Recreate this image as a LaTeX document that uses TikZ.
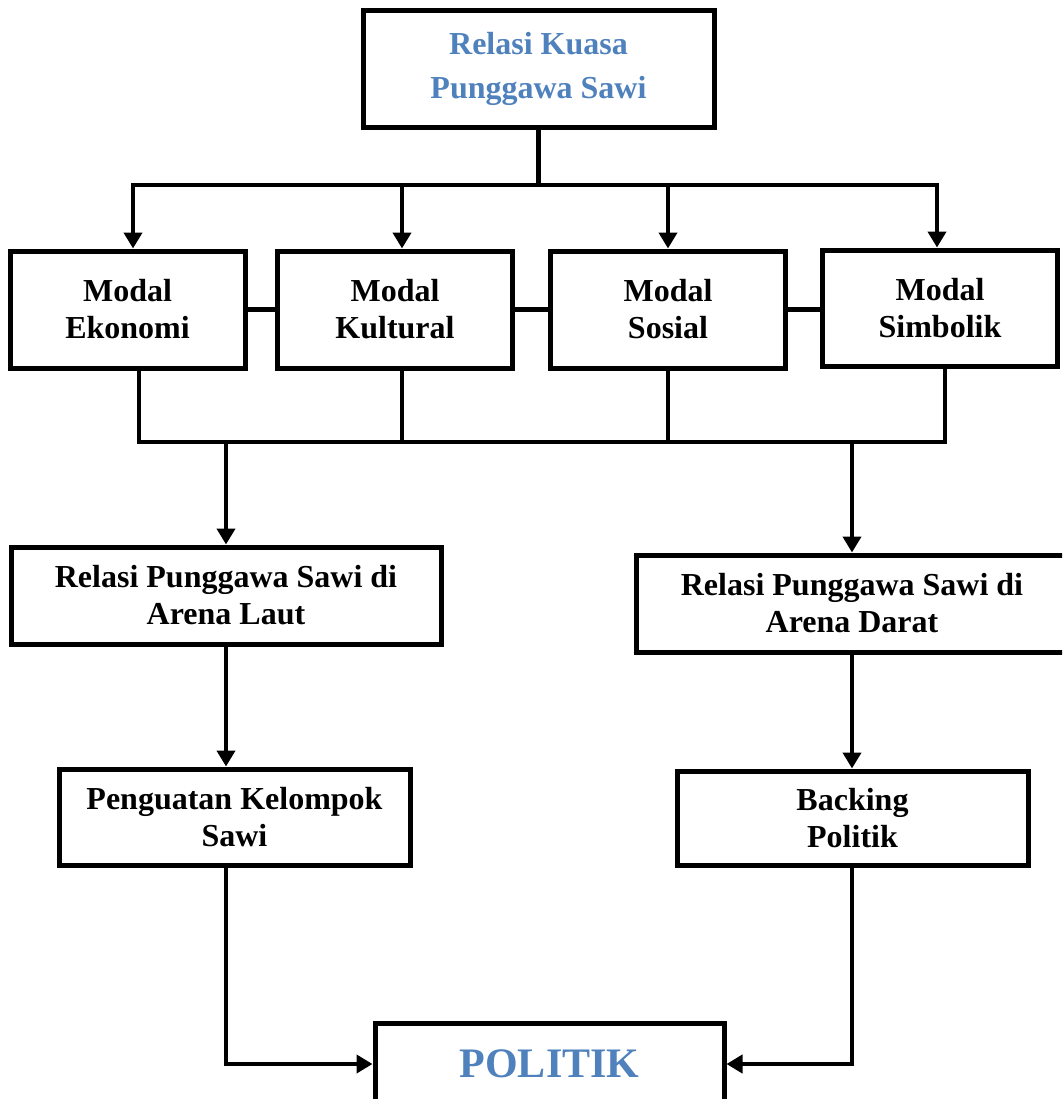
\documentclass[tikz,border=0pt]{standalone}
\usepackage{fontspec}
\setmainfont{Liberation Serif}
\usetikzlibrary{arrows.meta, positioning}
\definecolor{titleblue}{RGB}{79,129,189}

\begin{document}
\begin{tikzpicture}[x=0.5pt, y=-0.5pt,
        box/.style={draw=black, line width=2.5pt, fill=white, align=center, inner sep=0pt,
            font=\bfseries\fontsize{16}{18.5}\selectfont},
        modal/.style={box, minimum width=117.5pt, minimum height=58.5pt},
        link/.style={line width=2.3pt, line cap=rect},
        arr/.style={line width=2.3pt, -{Triangle[width=9pt, length=8pt]}}]
        \useasboundingbox (0,0) rectangle (1062,1099);
        \clip (0,0) rectangle (1062,1099);

        % Title
        \node[box, minimum width=175.5pt, minimum height=58.5pt, text=titleblue,
            font=\bfseries\fontsize{16}{22}\selectfont] (title) at (538.5, 68.5) {Relasi Kuasa\\Punggawa Sawi};

        % Capital boxes
        \node[modal] (ekonomi) at (127.5, 309.5) {Modal\\Ekonomi};
        \node[modal] (kultural) at (395, 309.5) {Modal\\Kultural};
        \node[modal] (sosial) at (668, 309.5) {Modal\\Sosial};
        \node[modal, minimum height=58pt] (simbolik) at (940, 308) {Modal\\Simbolik};

        % Arenas
        \node[box, minimum width=215pt, minimum height=48.5pt] (laut) at (226, 595.5) {Relasi Punggawa Sawi di\\Arena Laut};
        \node[box, minimum width=215.5pt, minimum height=48.5pt] (darat) at (852, 603.5) {Relasi Punggawa Sawi di\\Arena Darat};
        \node[box, minimum width=175.5pt, minimum height=48pt] (penguatan) at (234.5, 817) {Penguatan Kelompok\\Sawi};
        \node[box, minimum width=175.5pt, minimum height=47pt] (backing) at (852.5, 818) {Backing\\Politik};

        % Result
        \node[box, minimum width=174.5pt, minimum height=41pt, text=titleblue,
            font=\bfseries\fontsize{21}{24}\selectfont] (politik) at (549.5, 1064) {POLITIK};

        % Bus lines
        \coordinate (bus) at (0, 185);
        \coordinate (join) at (0, 442);

        % Top fan-out
        \draw[link] (title.south) -- (title.south |- bus);
        \draw[link] ([xshift=2.75pt]ekonomi.north |- bus) -- ([xshift=-1.5pt]simbolik.north |- bus);
        \draw[arr] ([xshift=2.75pt]ekonomi.north |- bus) -- ([xshift=2.75pt]ekonomi.north);
        \draw[arr] ([xshift=3.5pt]kultural.north |- bus) -- ([xshift=3.5pt]kultural.north);
        \draw[arr] (sosial.north |- bus) -- (sosial.north);
        \draw[arr] ([xshift=-1.5pt]simbolik.north |- bus) -- ([xshift=-1.5pt]simbolik.north);

        % Side links
        \draw[link] (ekonomi.east) -- (kultural.west);
        \draw[link] (kultural.east) -- (sosial.west);
        \draw[link] (sosial.east) -- (sosial.east -| simbolik.west);

        % Bottom join
        \draw[link] ([xshift=5.75pt]ekonomi.south) -- ([xshift=5.75pt]ekonomi.south |- join);
        \draw[link] ([xshift=3.5pt]kultural.south) -- ([xshift=3.5pt]kultural.south |- join);
        \draw[link] (sosial.south) -- (sosial.south |- join);
        \draw[link] ([xshift=2.5pt]simbolik.south) -- ([xshift=2.5pt]simbolik.south |- join);
        \draw[link] ([xshift=5.75pt]ekonomi.south |- join) -- ([xshift=2.5pt]simbolik.south |- join);

        % Down to arenas
        \draw[arr] (laut.north |- join) -- (laut.north);
        \draw[arr] (darat.north |- join) -- (darat.north);
        \draw[arr] (laut.south) -- (laut.south |- penguatan.north);
        \draw[arr] (darat.south) -- (darat.south |- backing.north);

        % Into politik
        \draw[arr] (laut.south |- penguatan.south) |- (politik.west);
        \draw[arr] (darat.south |- backing.south) |- (politik.east);
    \end{tikzpicture}
\end{document}
